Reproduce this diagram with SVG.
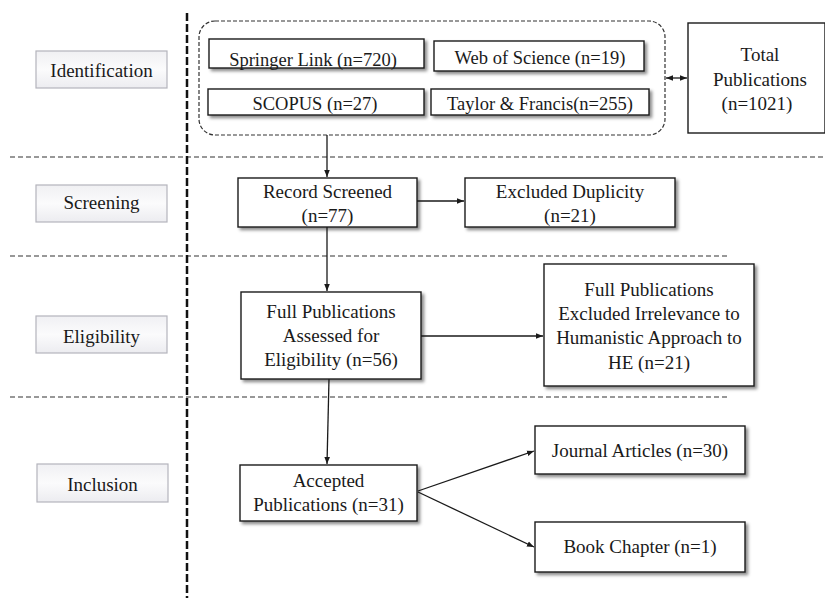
<svg xmlns="http://www.w3.org/2000/svg" width="825" height="598" viewBox="0 0 825 598">
<defs>
<style>
text{font-family:"Liberation Serif","Times New Roman",serif;font-size:19px;fill:#1a1a1a;text-anchor:middle}
.box{fill:#fff;stroke:#1a1a1a;stroke-width:1.4}
.lab{fill:url(#lg);stroke:#b4b4bc;stroke-width:1.2}
.sep{stroke:#333;stroke-width:1.2;stroke-dasharray:5 3;fill:none}
.con{stroke:#1a1a1a;stroke-width:1.3;fill:none}
.src{font-size:18.5px}
</style>
<linearGradient id="lg" x1="0" y1="0" x2="0" y2="1">
<stop offset="0" stop-color="#f0f0f3"/><stop offset="0.5" stop-color="#fbfbfc"/><stop offset="1" stop-color="#ececf0"/>
</linearGradient>
<filter id="sh" x="-10%" y="-10%" width="130%" height="140%">
<feDropShadow dx="2.5" dy="2.5" stdDeviation="1.5" flood-color="#000" flood-opacity="0.45"/>
</filter>
<marker id="ah" viewBox="0 0 10 10" refX="10" refY="5" markerWidth="7" markerHeight="7" markerUnits="userSpaceOnUse" orient="auto-start-reverse">
<path d="M0,1 L10,5 L0,9 z" fill="#1a1a1a"/>
</marker>
</defs>

<g id="separators">
<line class="sep" x1="10" y1="157" x2="825" y2="157"/>
<line class="sep" x1="10" y1="256" x2="728" y2="256"/>
<line class="sep" x1="10" y1="397" x2="728" y2="397"/>
<line x1="187" y1="13" x2="187" y2="598" stroke="#111" stroke-width="2.5" stroke-dasharray="8 3"/>
</g>

<g id="label-identification"><rect class="lab" x="36" y="51" width="131" height="37"/><text x="101.5" y="77">Identification</text></g>
<g id="label-screening"><rect class="lab" x="36" y="185" width="131" height="37"/><text x="101.5" y="209">Screening</text></g>
<g id="label-eligibility"><rect class="lab" x="36" y="316" width="131" height="37"/><text x="101.5" y="343">Eligibility</text></g>
<g id="label-inclusion"><rect class="lab" x="37" y="464" width="131" height="38"/><text x="102.5" y="491">Inclusion</text></g>

<g id="sources">
<rect x="199" y="21" width="466" height="114" rx="16" fill="none" stroke="#333" stroke-width="1.2" stroke-dasharray="4 2"/>
<g id="springer"><rect class="box" x="209" y="39" width="215" height="29" filter="url(#sh)"/><text class="src" x="313" y="66">Springer Link (n=720)</text></g>
<g id="wos"><rect class="box" x="434" y="41" width="210" height="30" filter="url(#sh)"/><text class="src" x="540" y="64">Web of Science (n=19)</text></g>
<g id="scopus"><rect class="box" x="208" y="89" width="216" height="26" filter="url(#sh)"/><text class="src" x="315" y="110">SCOPUS (n=27)</text></g>
<g id="taylor"><rect class="box" x="431" y="89" width="218" height="26" filter="url(#sh)"/><text class="src" x="540" y="110">Taylor &amp; Francis(n=255)</text></g>
</g>

<g id="total"><rect class="box" x="688" y="23" width="137" height="110"/><text x="760" y="61">Total</text><text x="760" y="86">Publications</text><text x="757" y="110">(n=1021)</text></g>

<g id="record"><rect class="box" x="238" y="178" width="179" height="49" filter="url(#sh)"/><text x="327.5" y="198">Record Screened</text><text x="327.5" y="222">(n=77)</text></g>

<g id="dup"><rect class="box" x="465" y="178" width="210" height="49" filter="url(#sh)"/><text x="570" y="198">Excluded Duplicity</text><text x="570" y="222">(n=21)</text></g>

<g id="assessed"><rect class="box" x="241" y="292" width="180" height="87" filter="url(#sh)"/><text x="331" y="318">Full Publications</text><text x="331" y="342">Assessed for</text><text x="331" y="366">Eligibility (n=56)</text></g>

<g id="irrelevant"><rect class="box" x="544" y="264" width="210" height="122" filter="url(#sh)"/><text x="649" y="295.5">Full Publications</text><text x="649" y="319.5">Excluded Irrelevance to</text><text x="649" y="344">Humanistic Approach to</text><text x="649" y="368.5">HE (n=21)</text></g>

<g id="accepted"><rect class="box" x="240" y="465" width="177" height="56" filter="url(#sh)"/><text x="328.5" y="487">Accepted</text><text x="328.5" y="511">Publications (n=31)</text></g>

<g id="journal"><rect class="box" x="535" y="426" width="210" height="48" filter="url(#sh)"/><text x="640" y="457">Journal Articles (n=30)</text></g>

<g id="book"><rect class="box" x="535" y="522" width="210" height="50" filter="url(#sh)"/><text x="640" y="553">Book Chapter (n=1)</text></g>

<g id="connectors">
<line class="con" x1="666" y1="78" x2="687" y2="78" marker-start="url(#ah)" marker-end="url(#ah)"/>
<line class="con" x1="327" y1="135" x2="327" y2="177" marker-end="url(#ah)"/>
<line class="con" x1="417" y1="201" x2="464" y2="201" marker-end="url(#ah)"/>
<line class="con" x1="327" y1="227" x2="327" y2="291" marker-end="url(#ah)"/>
<line class="con" x1="421" y1="336" x2="543" y2="336" marker-end="url(#ah)"/>
<line class="con" x1="329" y1="379" x2="327" y2="464" marker-end="url(#ah)"/>
<line class="con" x1="418" y1="491" x2="534" y2="451" marker-end="url(#ah)"/>
<line class="con" x1="418" y1="492" x2="534" y2="547" marker-end="url(#ah)"/>
</g>
</svg>
